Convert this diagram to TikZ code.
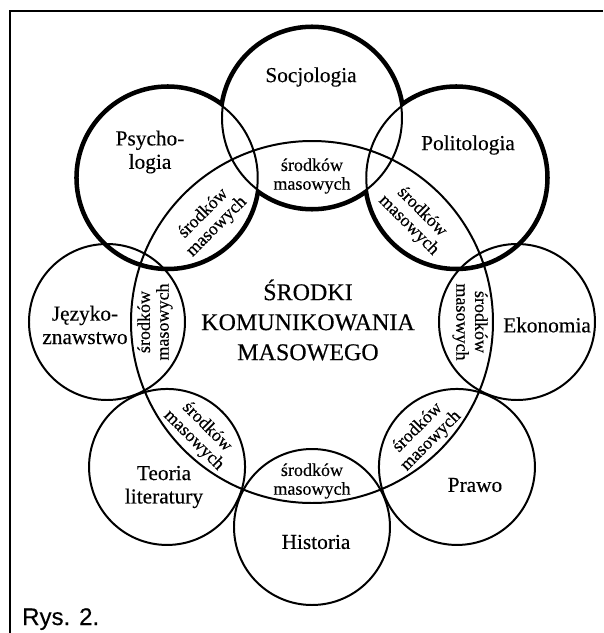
\documentclass[tikz,border=0pt]{standalone}
\usepackage{fontspec}
\setmainfont{Liberation Serif}[FakeBold=0.3]
\newfontfamily\rysfont{Liberation Sans}[FakeBold=0.3]
\usetikzlibrary{positioning}

\begin{document}
\begin{tikzpicture}[
  x=0.03cm,y=0.03cm,
  tn/.style={line width=1.7pt},
  th/.style={line width=6pt},
  lb/.style={align=center,inner sep=0pt,font=\fontsize{18.2}{20}\selectfont},
  ln/.style={align=center,inner sep=0pt,font=\fontsize{15.4}{16}\selectfont}]
  \useasboundingbox (-312,-311) rectangle (291,322);
  \draw[line width=1.3pt] (-302,-311) -- (-302,311) -- (291,311);
  \coordinate (c) at (0,0);
  \foreach \a/\n in {90/soc,45/pol,135/psy} \coordinate (\n) at (\a:204);
  \foreach \a/\n in {0/eko,-45/pra,-90/his,-135/teo,180/jez} \coordinate (\n) at (\a:205);
  % thick outline of the three upper circles
  \foreach \n in {soc,pol,psy} \draw[th] (\n) circle (90);
  \foreach \n in {soc,pol,psy} \fill[white] (\n) circle (90);
  \foreach \n in {soc,pol,psy} \draw[tn] (\n) circle (90);
  \foreach \n in {eko,pra,his,teo,jez} \draw[tn] (\n) circle (78);
  \draw[tn] (c) circle (181);
  % lenses
  \foreach \a/\d/\r [count=\i] in {90/146/0,45/146/-45,0/158/-90,-45/159/45,
      -90/159/0,-135/158/-45,180/157/90,135/144/45}
    \node[ln,rotate=\r] (sm\i) at (\a:\d) {środków\\masowych};
  \node[lb] (tsoc) at (-1,245) {Socjologia};
  \node[lb] (tpsy) at (-162,170) {Psycho-\\logia};
  \node[lb] (tpol) at (156,177) {Politologia};
  \node[lb] (tjez) at (-227,-3) {Języko-\\znawstwo};
  \node[lb] (teko) at (235,-3) {Ekonomia};
  \node[lb] (tteo) at (-148,-165) {Teoria\\literatury};
  \node[lb] (this) at (4,-220) {Historia};
  \node[lb] (tpra) at (163,-163) {Prawo};
  \node[align=center,inner sep=0pt,font=\fontsize{20.5}{25.6}\selectfont] (smk) at (-4,2)
    {ŚRODKI\\KOMUNIKOWANIA\\MASOWEGO};
  \node[anchor=base west,inner sep=0pt,font=\rysfont\fontsize{20.5}{24}\selectfont] (rys) at (-290,-303) {Rys. 2.};
\end{tikzpicture}
\end{document}
